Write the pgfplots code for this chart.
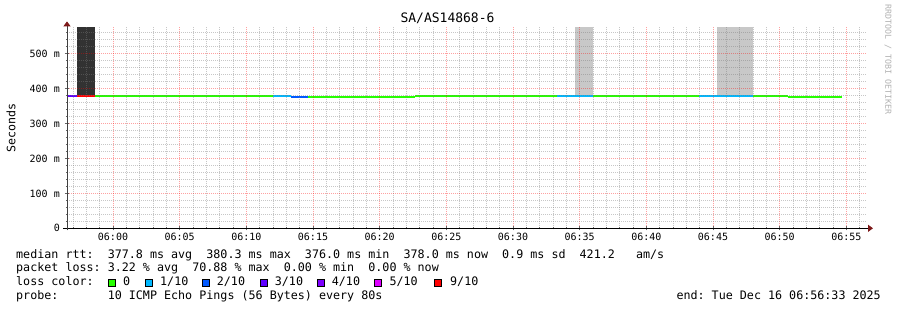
\documentclass[border=0pt]{standalone}
\usepackage{fontspec}
\setmainfont{DejaVu Sans Mono}
\usepackage{pgfplots}
\pgfplotsset{compat=1.18}
\usetikzlibrary{arrows.meta}
\definecolor{c0}{HTML}{26FF00}
\definecolor{c1}{HTML}{00B8FF}
\definecolor{c2}{HTML}{0059FF}
\definecolor{c3}{HTML}{5E00FF}
\definecolor{c4}{HTML}{7E00FF}
\definecolor{c5}{HTML}{DD00FF}
\definecolor{c9}{HTML}{FF0000}
\definecolor{gridminor}{RGB}{122,122,122}
\definecolor{gridmajor}{RGB}{255,0,0}
\definecolor{arrowred}{RGB}{125,25,25}
\definecolor{darksmoke}{RGB}{50,50,50}
\definecolor{lightsmoke}{RGB}{200,200,200}
\newcommand{\legfont}{\fontsize{11.7}{14}\selectfont}
\newcommand{\tickfont}{\fontsize{10}{12}\selectfont}
\begin{document}
\begin{tikzpicture}[x=1pt,y=1pt]
\fill[white] (0,0) rectangle (897,310);
\useasboundingbox (0,0) rectangle (897,310);
\begin{axis}[
  at={(67pt,81.7pt)}, anchor=south west,
  scale only axis, width=800pt, height=200.9pt,
  xmin=-3.45, xmax=56.55, ymin=0, ymax=575.6,
  axis on top,
  axis x line=bottom, axis y line=left,
  x axis line style={black, line width=1pt, shorten <=-4pt, shorten >=-6pt, -{Triangle[length=5pt,width=7pt,color=arrowred]}},
  y axis line style={black!75, line width=1pt, shorten <=-2pt, shorten >=-6pt, -{Triangle[length=5pt,width=7pt,color=arrowred]}},
  xtick={0,5,...,55},
  xticklabels={06:00,06:05,06:10,06:15,06:20,06:25,06:30,06:35,06:40,06:45,06:50,06:55},
  minor xtick={-3,-2,-1,1,2,3,4,6,7,8,9,11,12,13,14,16,17,18,19,21,22,23,24,26,27,28,29,31,32,33,34,36,37,38,39,41,42,43,44,46,47,48,49,51,52,53,54,56},
  ytick={0,100,200,300,400,500},
  yticklabels={0,100 m,200 m,300 m,400 m,500 m},
  minor ytick={20,40,60,80,120,140,160,180,220,240,260,280,320,340,360,380,420,440,460,480,520,540,560},
  grid=both,
  major grid style={gridmajor, opacity=0.37, dash pattern=on 1pt off 1pt, line width=1pt},
  minor grid style={gridminor, opacity=0.42, dash pattern=on 1pt off 1pt, line width=1pt},
  tick align=center,
  major tick length=4pt, minor tick length=2pt,
  tick style={black!60, line width=0.8pt},
  xticklabel style={font=\tickfont, anchor=north, inner sep=0pt, yshift=-3pt},
  yticklabel style={font=\tickfont, anchor=east, inner sep=0pt, xshift=-5pt},
  clip=true,
]
% smoke
\addplot[fill=darksmoke, draw=none] coordinates {(-2.68,377) (-2.68,575.6) (-1.35,575.6) (-1.35,377)};
\addplot[fill=lightsmoke, draw=none] coordinates {(34.65,377) (34.65,575.6) (35.98,575.6) (35.98,377)};
\addplot[fill=lightsmoke, draw=none] coordinates {(45.32,377) (45.32,575.6) (47.98,575.6) (47.98,377)};
% median rtt, coloured by loss
\addplot[c3, line width=2pt] coordinates {(-3.45,378) (-2.68,378)};
\addplot[c9, line width=2pt] coordinates {(-2.68,378) (-1.35,378)};
\addplot[c0, line width=2pt] coordinates {(-1.35,378) (11.98,378)};
\addplot[c1, line width=2pt] coordinates {(11.98,378) (13.32,378)};
\addplot[c2, line width=2pt] coordinates {(13.32,376.5) (14.65,376.5)};
\addplot[c0, line width=2pt] coordinates {(14.65,376.5) (22.65,376.5)};
\addplot[c0, line width=2pt] coordinates {(22.65,378) (33.32,378)};
\addplot[c1, line width=2pt] coordinates {(33.32,378) (35.98,378)};
\addplot[c0, line width=2pt] coordinates {(35.98,378) (43.98,378)};
\addplot[c1, line width=2pt] coordinates {(43.98,378) (47.98,378)};
\addplot[c0, line width=2pt] coordinates {(47.98,380.3) (50.65,380.3)};
\addplot[c0, line width=2pt] coordinates {(50.65,377.5) (54.65,377.5)};
\end{axis}
% title and axis label
\node[anchor=base, inner sep=0pt, font=\fontsize{13}{15}\selectfont] at (447.5,287) {SA/AS14868-6};
\node[rotate=90, inner sep=0pt, font=\fontsize{11.6}{14}\selectfont] at (11,182.3) {Seconds};
\node[rotate=-90, anchor=west, inner sep=0pt, text=black!30, font=\fontsize{8.3}{10}\selectfont] at (888,306) {RRDTOOL / TOBI OETIKER};
% legend text
\node[anchor=base west, inner sep=0pt, font=\legfont] at (16,51.5) {median~rtt:~~377.8~ms~avg~~380.3~ms~max~~376.0~ms~min~~378.0~ms~now~~0.9~ms~sd~~421.2~~~am/s};
\node[anchor=base west, inner sep=0pt, font=\legfont] at (16,38) {packet~loss:~3.22~\%~avg~~70.88~\%~max~~0.00~\%~min~~0.00~\%~now};
\node[anchor=base west, inner sep=0pt, font=\legfont] at (16,24) {loss~color:};
\foreach \cx/\col in {112/c0, 149.3/c1, 206/c2, 264/c3, 321/c4, 378.3/c5, 438.3/c9}{
  \node[draw=black, fill=\col, minimum size=7pt, inner sep=0pt, line width=0.7pt] at (\cx,27.3) {};
}
\node[anchor=base west, inner sep=0pt, font=\legfont] at (123,24) {0};
\node[anchor=base west, inner sep=0pt, font=\legfont] at (160,24) {1/10};
\node[anchor=base west, inner sep=0pt, font=\legfont] at (216.7,24) {2/10};
\node[anchor=base west, inner sep=0pt, font=\legfont] at (274.7,24) {3/10};
\node[anchor=base west, inner sep=0pt, font=\legfont] at (331.7,24) {4/10};
\node[anchor=base west, inner sep=0pt, font=\legfont] at (389.3,24) {5/10};
\node[anchor=base west, inner sep=0pt, font=\legfont] at (450,24) {9/10};
\node[anchor=base west, inner sep=0pt, font=\legfont] at (16,10.5) {probe:~~~~~~~10~ICMP~Echo~Pings~(56~Bytes)~every~80s};
\node[anchor=base east, inner sep=0pt, font=\legfont] at (881,10.5) {end:~Tue~Dec~16~06:56:33~2025};
\end{tikzpicture}
\end{document}
